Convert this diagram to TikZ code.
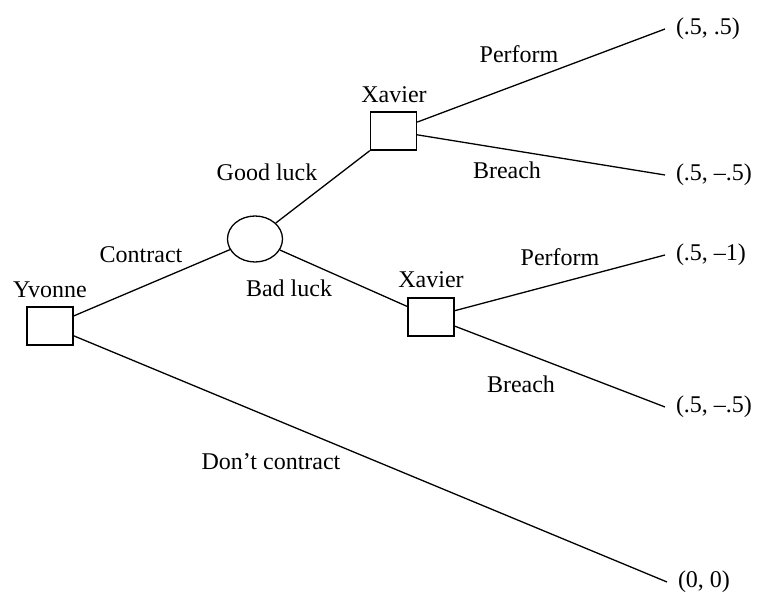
\documentclass[tikz,border=0pt]{standalone}
\usepackage{fontspec}
\setmainfont{Liberation Serif}
\usetikzlibrary{shapes.geometric}
\tikzset{
  every picture/.style={line width=0.65pt},
  decbox/.style={draw, rectangle, inner sep=0pt, minimum width=23pt, minimum height=19pt},
  chance/.style={draw, ellipse, inner sep=0pt, minimum width=27.5pt, minimum height=23pt},
  lab/.style={anchor=base, inner sep=0pt, font=\fontsize{12}{14}\selectfont},
  payoff/.style={anchor=west, inner xsep=5.5pt, inner ysep=0pt, outer sep=0pt, font=\fontsize{12}{14}\selectfont},
  branch/.style={draw, line width=0.65pt}
}
\begin{document}
\begin{tikzpicture}[x=0.5pt,y=-0.5pt]
\useasboundingbox (0,0) rectangle (757,592);
% decision and chance nodes
\node[decbox] (Y) at (50,326) {};
\node[chance] (E) at (255,239) {};
\node[decbox] (XT) at (393.5,131) {};
\node[decbox] (XB) at (431,317) {};
% payoffs
\node[payoff] (t1) at (665,29) {(.5, .5)};
\node[payoff] (t2) at (665,175) {(.5, –.5)};
\node[payoff] (t3) at (665,255) {(.5, –1)};
\node[payoff] (t4) at (665,407) {(.5, –.5)};
\node[payoff] (t5) at (667,582) {(0, 0)};
% player labels
\node[lab] (lY) at (50,298) {Yvonne};
\node[lab] (lXT) at (394,103) {Xavier};
\node[lab] (lXB) at (431,288) {Xavier};
% branch labels
\node[lab] (bC) at (141,263) {Contract};
\node[lab] (bG) at (267,181) {Good luck};
\node[lab] (bB) at (289,297) {Bad luck};
\node[lab] (bP1) at (519,63) {Perform};
\node[lab] (bR1) at (507,179) {Breach};
\node[lab] (bP2) at (560,266) {Perform};
\node[lab] (bR2) at (521,393) {Breach};
\node[lab] (bD) at (271,470) {Don’t contract};
% branches
\draw[branch] (Y) -- (E);
\draw[branch] (Y) -- (t5.west);
\draw[branch] (E) -- (XT.south west);
\draw[branch] (E) -- (XB);
\draw[branch] (XT) -- (t1.west);
\draw[branch] (XT) -- (t2.west);
\draw[branch] (XB) -- (t3.west);
\draw[branch] (XB) -- (t4.west);
\end{tikzpicture}
\end{document}
